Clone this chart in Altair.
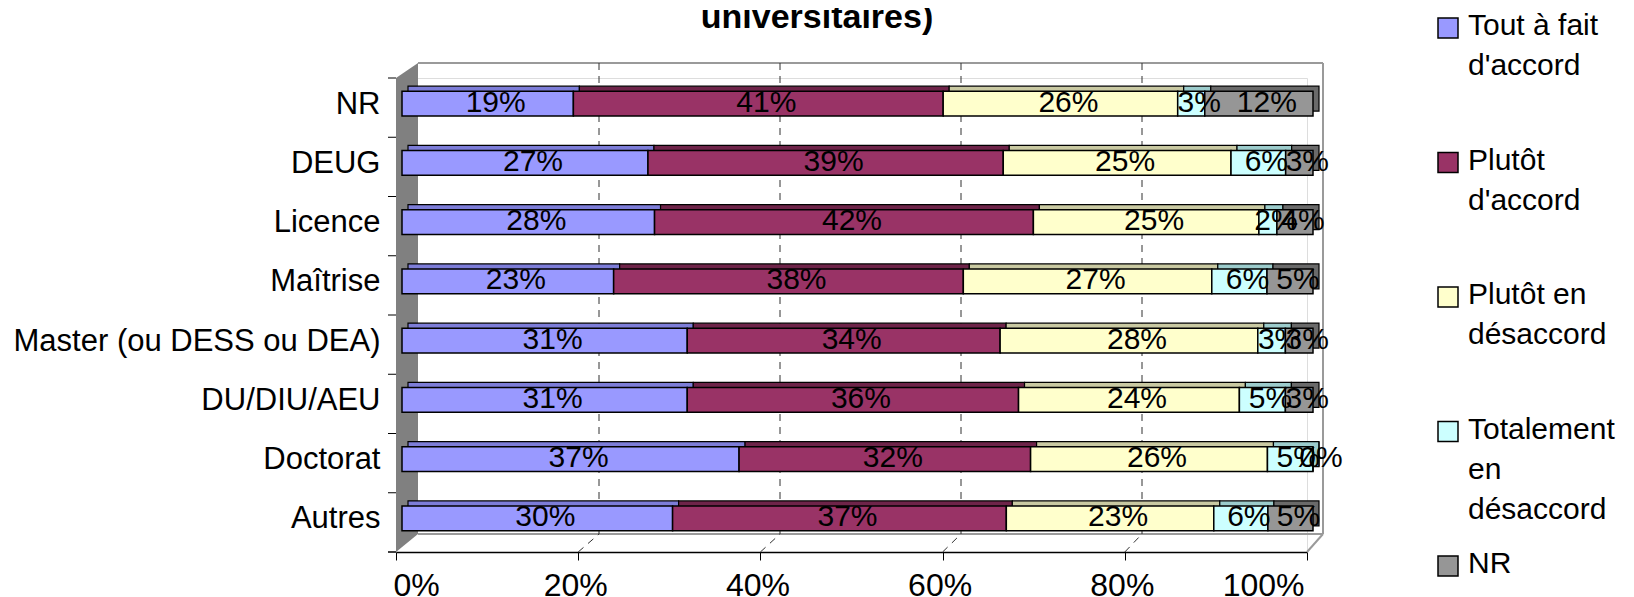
import altair as alt
import pandas as pd

# ---------------- data ----------------
categories = ["NR", "DEUG", "Licence", "Maîtrise", "Master (ou DESS ou DEA)",
              "DU/DIU/AEU", "Doctorat", "Autres"]
series = ["Tout à fait d'accord", "Plutôt d'accord", "Plutôt en désaccord",
          "Totalement en désaccord", "NR"]
tout_a_fait = [19, 27, 28, 23, 31, 31, 37, 30]
plutot_accord = [41, 39, 42, 38, 34, 36, 32, 37]
plutot_desaccord = [26, 25, 25, 27, 28, 24, 26, 23]
totalement_des = [3, 6, 2, 6, 3, 5, 5, 6]
non_rep = [12, 3, 4, 5, 3, 3, 0, 5]
legend_labels = ["Tout à fait\nd'accord", "Plutôt\nd'accord", "Plutôt en\ndésaccord",
                 "Totalement\nen\ndésaccord", "NR"]
x_ticks = [0, 0.2, 0.4, 0.6, 0.8, 1.0]
title_text = "universitaires)"

# ---------------- style ----------------
FONT = "Liberation Sans"
front_colors = ["#9999FF", "#993366", "#FFFFCC", "#CCFFFF", "#969696"]
top_colors = ["#7D7DD8", "#6E2449", "#C9C9A2", "#9CCCCC", "#6A6A6A"]
W, H = 911, 474
DX, BACK_TOP, BACK_BOTTOM, BACK_W = 22, -15, 456, 905
BAR_DX, BAR_DY = 6, -4
DEPTH_X, DEPTH_Y = 6, -5

values = [tout_a_fait, plutot_accord, plutot_desaccord, totalement_des, non_rep]
rows = []
for si, (s, vals) in enumerate(zip(series, values)):
    for c, v in zip(categories, vals):
        rows.append({"cat": c, "series": s, "order": si, "value": v, "lbl": f"{v}%"})
df = pd.DataFrame(rows)

y_enc = alt.Y("cat:N", sort=categories,
              scale=alt.Scale(domain=categories, paddingInner=0.58, paddingOuter=0.29),
              axis=alt.Axis(title=None, labelFontSize=31, labelFont=FONT, labelColor="black",
                            domain=False, tickOpacity=0, tickSize=8, labelPadding=8,
                            labelOffset=-3, grid=False, labelLimit=0))
x_axis = alt.Axis(title=None, values=x_ticks, format=".0%", labelFontSize=32, labelFont=FONT,
                  labelColor="black", tickSize=8, tickColor="black", domainColor="black",
                  domainWidth=1.5, labelPadding=10, labelOffset=-3, grid=False)
x_scale = alt.Scale(domain=[0, 1], nice=False, zero=True)

base = alt.Chart(df).transform_stack(
    stack="value", groupby=["cat"], as_=["x0", "x1"], offset="normalize",
    sort=[alt.SortField("order", order="ascending")]
).transform_calculate(mid="(datum.x0 + datum.x1) / 2")

back = base.mark_bar(stroke="black", strokeWidth=1.2,
                     xOffset=BAR_DX + DEPTH_X, x2Offset=BAR_DX + DEPTH_X,
                     yOffset=BAR_DY + DEPTH_Y).encode(
    x=alt.X("x0:Q", scale=x_scale, axis=x_axis), x2="x1:Q", y=y_enc,
    color=alt.Color("series:N", scale=alt.Scale(domain=series, range=top_colors), legend=None))

front = base.mark_bar(stroke="black", strokeWidth=1.5,
                      xOffset=BAR_DX, x2Offset=BAR_DX, yOffset=BAR_DY).encode(
    x=alt.X("x0:Q", scale=x_scale, axis=x_axis), x2="x1:Q", y=y_enc,
    fill=alt.Fill("series:N", scale=alt.Scale(domain=series, range=front_colors), legend=None))

labels = base.mark_text(font=FONT, fontSize=30, color="black", baseline="middle",
                        align="center", xOffset=BAR_DX + 8, yOffset=-5).encode(
    x=alt.X("mid:Q", scale=x_scale, axis=x_axis), y=y_enc, text="lbl:N")

# ---------------- 3D frame (decoration, pixel space) ----------------
wall = alt.Chart(pd.DataFrame({"x": [0, DX], "y": [0, BACK_TOP], "y2": [H, BACK_BOTTOM]})).mark_area(
    color="#808080", orient="vertical").encode(
    x=alt.X("x:Q", scale=None, axis=None), y=alt.Y("y:Q", scale=None, axis=None), y2="y2:Q")

solid = pd.DataFrame([
    {"x": DX, "y": BACK_TOP, "x2": DX + BACK_W, "y2": BACK_TOP},
    {"x": DX + BACK_W, "y": BACK_TOP, "x2": DX + BACK_W, "y2": BACK_BOTTOM},
    {"x": DX, "y": BACK_BOTTOM, "x2": DX + BACK_W, "y2": BACK_BOTTOM},
    {"x": W, "y": H, "x2": DX + BACK_W, "y2": BACK_BOTTOM},
])
frame_lines = alt.Chart(solid).mark_rule(color="#9a9a9a", strokeWidth=2).encode(
    x=alt.X("x:Q", scale=None, axis=None), y=alt.Y("y:Q", scale=None, axis=None),
    x2="x2:Q", y2="y2:Q")

dash_rows = []
for p in x_ticks[1:-1]:
    dash_rows.append({"x": DX + BACK_W * p, "y": BACK_TOP, "x2": DX + BACK_W * p, "y2": BACK_BOTTOM})
    dash_rows.append({"x": W * p, "y": H, "x2": DX + BACK_W * p, "y2": BACK_BOTTOM})
grid = alt.Chart(pd.DataFrame(dash_rows)).mark_rule(color="#303030", strokeWidth=1,
                                                     strokeDash=[7, 6]).encode(
    x=alt.X("x:Q", scale=None, axis=None), y=alt.Y("y:Q", scale=None, axis=None),
    x2="x2:Q", y2="y2:Q")

ticks = alt.Chart(pd.DataFrame({"cat": categories})).mark_rule(
    color="black", strokeWidth=1, yOffset=-29.625).encode(
    y=y_enc, x=alt.value(-8), x2=alt.value(0))
bottom_tick = alt.Chart(pd.DataFrame({"k": [0]})).mark_rule(color="black", strokeWidth=1.5).encode(
    y=alt.value(H), x=alt.value(-8), x2=alt.value(0))

# ---------------- title ----------------
title = alt.Chart(pd.DataFrame({"t": [title_text]})).mark_text(
    font=FONT, fontSize=34, fontWeight="bold", color="black", align="center",
    baseline="alphabetic").encode(x=alt.value(421), y=alt.value(-50), text="t:N")

# ---------------- legend ----------------
leg_df = pd.DataFrame({"series": series, "label": legend_labels, "i": list(range(len(series)))})
leg_base = alt.Chart(leg_df).transform_calculate(
    ty="-67 + datum.i * 134.5", sy="-50 + datum.i * 134.5")
leg_sq = leg_base.mark_square(size=400, stroke="black", strokeWidth=1.5, opacity=1).encode(
    x=alt.value(1052), y=alt.Y("sy:Q", scale=None, axis=None),
    fill=alt.Fill("series:N", scale=alt.Scale(domain=series, range=front_colors), legend=None))
leg_txt = leg_base.mark_text(font=FONT, fontSize=30, color="black", align="left",
                             baseline="top", lineBreak="\n", lineHeight=40).encode(
    x=alt.value(1072), y=alt.Y("ty:Q", scale=None, axis=None), text="label:N")

chart = alt.layer(
    wall, frame_lines, grid, ticks, bottom_tick, back, front, labels, title, leg_sq, leg_txt
).properties(
    width=W, height=H,
    autosize=alt.AutoSizeParams(type="none"),
    padding={"left": 388, "top": 70, "right": 318, "bottom": 45},
).configure_view(stroke=None).configure(font=FONT)

chart.save("out.html", embed_options={"renderer": "svg", "actions": False})
